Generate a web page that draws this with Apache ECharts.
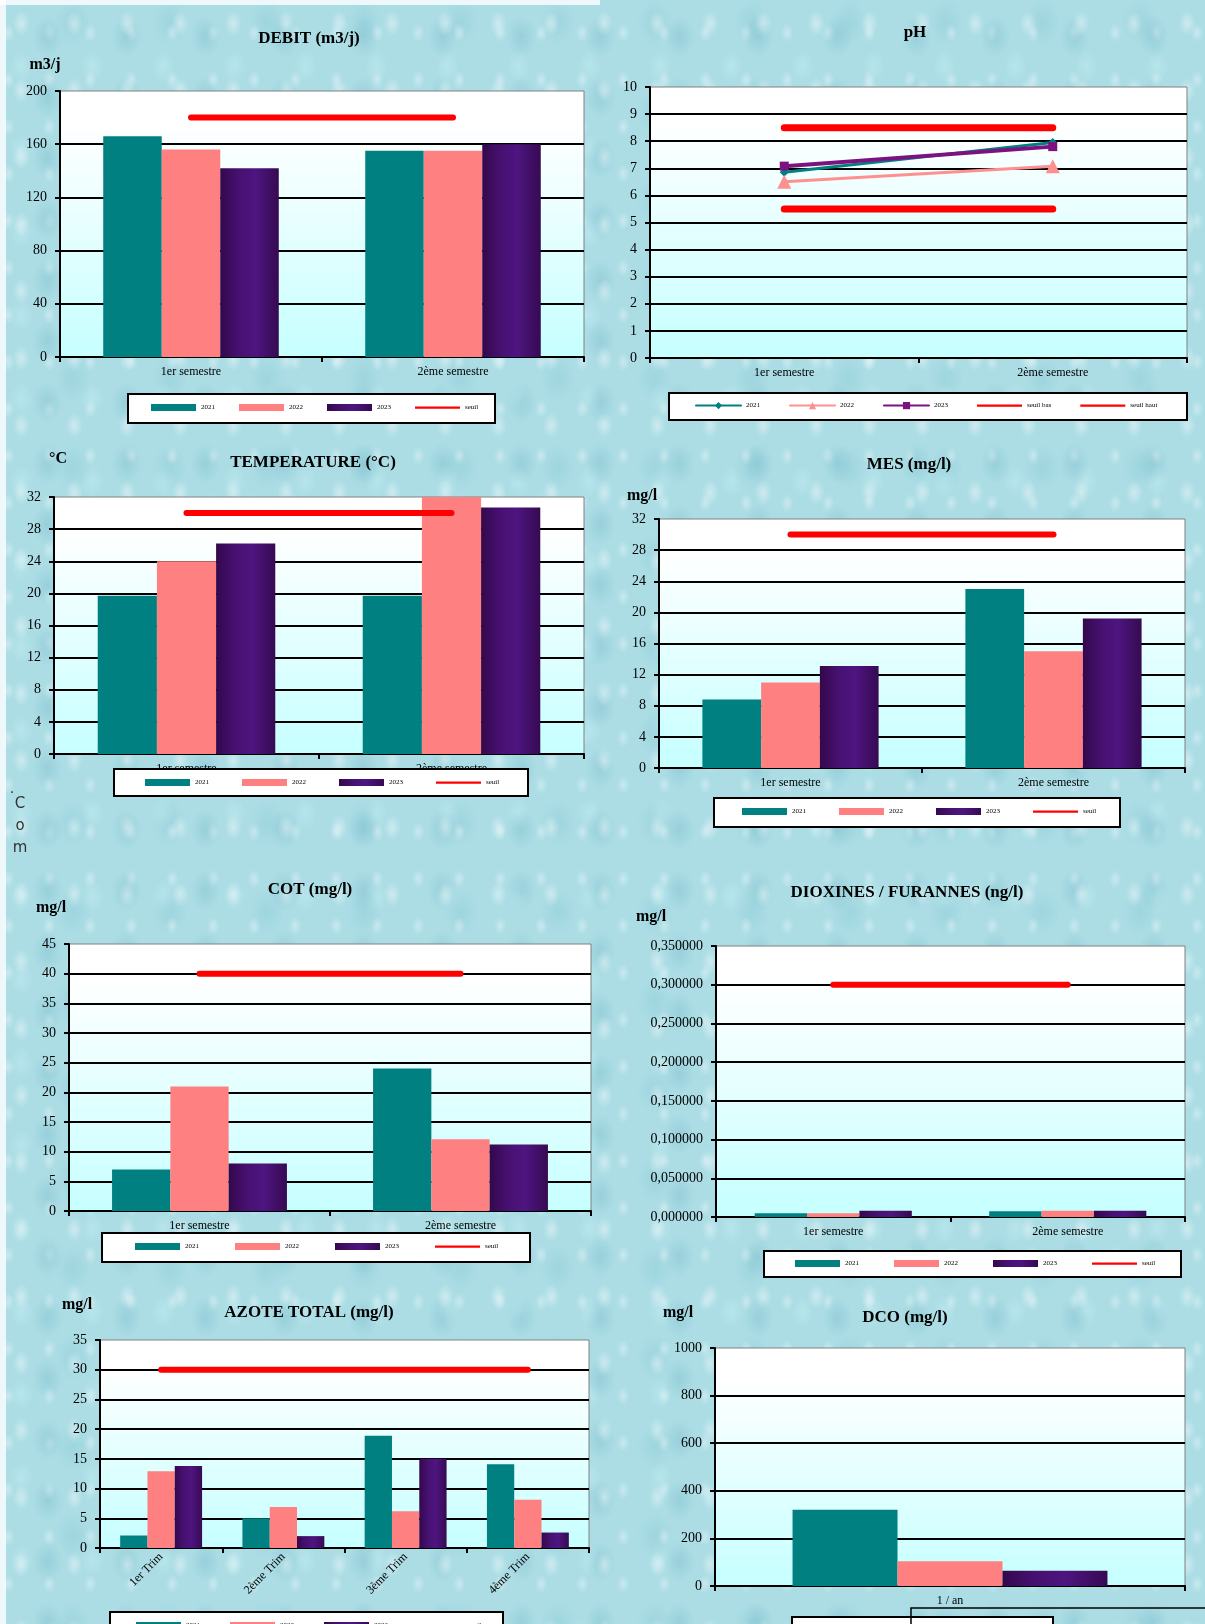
<!DOCTYPE html>
<html>
<head>
<meta charset="utf-8">
<script src="https://cdn.jsdelivr.net/npm/echarts@6/dist/echarts.min.js"></script>
<style>
html,body{margin:0;padding:0;}
body{width:1205px;height:1624px;overflow:hidden;position:relative;
 background-color:#acdde5;
 background-image:
  radial-gradient(ellipse 12px 18px at 40% 35%, rgba(255,255,255,0.40), rgba(255,255,255,0) 70%),
  radial-gradient(ellipse 22px 30px at 60% 60%, rgba(80,160,180,0.22), rgba(80,160,180,0) 70%),
  radial-gradient(ellipse 9px 13px at 20% 70%, rgba(255,255,255,0.35), rgba(255,255,255,0) 70%),
  radial-gradient(ellipse 26px 34px at 75% 25%, rgba(110,185,200,0.22), rgba(110,185,200,0) 70%),
  radial-gradient(ellipse 16px 22px at 30% 80%, rgba(200,240,245,0.4), rgba(200,240,245,0) 70%);
 background-size: 53px 67px, 79px 61px, 41px 47px, 97px 89px, 71px 83px;
}
#stripL{position:absolute;left:0;top:0;width:6px;height:1624px;background:rgba(255,255,255,0.8);}
#stripT{position:absolute;left:0;top:0;width:600px;height:5px;background:rgba(255,255,255,0.8);}
#chart{position:absolute;left:0;top:0;width:1205px;height:1624px;}
</style>
</head>
<body>
<div id="stripL"></div><div id="stripT"></div>
<div id="chart"></div>
<script>
// ---------- DATA ----------
const semesters = ['1er semestre', '2ème semestre'];
const trims = ['1er Trim', '2ème Trim', '3ème Trim', '4ème Trim'];
const dcoCats = ['1 / an'];

const debitTicks = [0, 40, 80, 120, 160, 200];
const debit2021 = [166, 155];
const debit2022 = [156, 155];
const debit2023 = [142, 160];
const debitSeuil = [180, 180];

const phTicks = [0, 1, 2, 3, 4, 5, 6, 7, 8, 9, 10];
const ph2021 = [6.85, 7.95];
const ph2022 = [6.5, 7.08];
const ph2023 = [7.08, 7.8];
const phSeuilBas = [5.5, 5.5];
const phSeuilHaut = [8.5, 8.5];

const tempTicks = [0, 4, 8, 12, 16, 20, 24, 28, 32];
const temp2021 = [19.7, 19.7];
const temp2022 = [24, 32];
const temp2023 = [26.2, 30.7];
const tempSeuil = [30, 30];

const mesTicks = [0, 4, 8, 12, 16, 20, 24, 28, 32];
const mes2021 = [8.8, 23];
const mes2022 = [11, 15];
const mes2023 = [13.1, 19.2];
const mesSeuil = [30, 30];

const cotTicks = [0, 5, 10, 15, 20, 25, 30, 35, 40, 45];
const cot2021 = [7, 24];
const cot2022 = [21, 12.1];
const cot2023 = [8, 11.2];
const cotSeuil = [40, 40];

const dioxTicks = [0, 0.05, 0.10, 0.15, 0.20, 0.25, 0.30, 0.35];
const diox2021 = [0.005, 0.0075];
const diox2022 = [0.005, 0.008];
const diox2023 = [0.008, 0.008];
const dioxSeuil = [0.3, 0.3];

const azoteTicks = [0, 5, 10, 15, 20, 25, 30, 35];
const azote2021 = [2.1, 5, 18.9, 14.1];
const azote2022 = [12.9, 6.9, 6.2, 8.1];
const azote2023 = [13.8, 2, 15, 2.6];
const azoteSeuil = [30, 30, 30, 30];

const dcoTicks = [0, 200, 400, 600, 800, 1000];
const dco2021 = [320];
const dco2022 = [104];
const dco2023 = [64];

// ---------- STYLE ----------
const SERIF = '"Liberation Serif", "Times New Roman", serif';
const TEAL = '#008080', PINK = '#ff8080', RED = '#ff0000';
const PURPLE = {type:'linear', x:0, y:0, x2:1, y2:0, colorStops:[
  {offset:0, color:'#33084c'}, {offset:0.3, color:'#46106f'}, {offset:0.6, color:'#4e1580'}, {offset:1, color:'#360a52'}]};
const PLOTBG = {type:'linear', x:0, y:0, x2:0, y2:1, colorStops:[
  {offset:0, color:'#ffffff'}, {offset:0.13, color:'#ffffff'}, {offset:1, color:'#c6ffff'}]};
const SEUIL_ICON = 'path://M0,0H60V3H0Z';

const grids = [], xAxes = [], yAxes = [], series = [], legends = [], graphics = [];

function txt(x, y, text, font, color) {
  graphics.push({type:'text', x:x, y:y, z:50, style:{text:text, font:font, fill:color || '#000',
    align:'center', verticalAlign:'middle', textAlign:'center', textVerticalAlign:'middle'}});
}
function box(x, y, w, h, fill) {
  graphics.push({type:'rect', z:50, shape:{x:x, y:y, width:w, height:h},
    style:{fill:fill, stroke:'#000', lineWidth:2}});
}

function addPanel(p) {
  const i = grids.length;
  grids.push({left:p.grid[0], top:p.grid[1], width:p.grid[2], height:p.grid[3], show:true,
    backgroundColor:PLOTBG, borderColor:'#808080', borderWidth:1});
  xAxes.push({type:'category', gridIndex:i, data:p.cats, boundaryGap:true,
    axisLine:{lineStyle:{color:'#000', width:2}},
    axisTick:{show:true, length:5, lineStyle:{color:'#000', width:2}},
    axisLabel:{color:'#000', fontFamily:SERIF, fontSize:12, margin:p.xMargin || 9, rotate:p.rotate || 0, interval:0},
    splitLine:{show:false}});
  const t = p.ticks;
  yAxes.push({type:'value', gridIndex:i, min:t[0], max:t[t.length-1], interval:t[1]-t[0],
    axisLine:{show:true, lineStyle:{color:'#000', width:2}},
    axisTick:{show:true, length:5, lineStyle:{color:'#000', width:2}},
    axisLabel:{color:'#000', fontFamily:SERIF, fontSize:14, margin:13, formatter:p.fmt || (v => String(v))},
    splitLine:{show:true, showMaxLine:false, lineStyle:{color:'#000', width:2}}});
  const legendData = [];
  (p.bars || []).forEach(b => {
    const name = b.name + '|' + i;
    series.push({type:'bar', name:name, xAxisIndex:i, yAxisIndex:i, data:b.data,
      itemStyle:{color:b.color}, barGap:'0%', barCategoryGap:'33%'});
    legendData.push({name:name, icon:'rect'});
  });
  (p.lines || []).forEach(l => {
    const name = l.name + '|' + i;
    series.push({type:'line', name:name, xAxisIndex:i, yAxisIndex:i, data:l.data,
      symbol:l.symbol || 'none', symbolSize:l.size || 0, z:5,
      lineStyle:{color:l.color, width:l.width, cap:'round'}, itemStyle:{color:l.color}});
    legendData.push(l.symbol ? {name:name} : {name:name, icon:SEUIL_ICON});
  });
  if (p.legend) {
    legends.push({left:p.legend.left, top:p.legend.top, orient:'horizontal', itemGap:p.legend.gap,
      itemWidth:45, itemHeight:p.legend.ih || 7, padding:0, z:60, selectedMode:false,
      lineStyle:{width:2}, data:legendData, formatter:n => n.split('|')[0],
      textStyle:{fontFamily:SERIF, fontSize:7, color:'#000'}});
  }
  if (p.box) box(p.box[0], p.box[1], p.box[2], p.box[3], '#fff');
}

const bars3 = (a, b, c) => [{name:'2021', data:a, color:TEAL}, {name:'2022', data:b, color:PINK}, {name:'2023', data:c, color:PURPLE}];
const seuilLine = d => ({name:'seuil', data:d, color:RED, width:6});

// 1 DEBIT
addPanel({grid:[60, 91, 524, 266], cats:semesters, ticks:debitTicks,
  bars:bars3(debit2021, debit2022, debit2023), lines:[seuilLine(debitSeuil)],
  legend:{left:151, top:404, gap:24}, box:[128, 394, 367, 29]});
txt(309, 39, 'DEBIT (m3/j)', 'bold 17px ' + SERIF);
txt(45, 65, 'm3/j', 'bold 16px ' + SERIF);

// 2 pH
addPanel({grid:[650, 87, 537, 271], cats:semesters, ticks:phTicks,
  lines:[
    {name:'2021', data:ph2021, color:TEAL, width:3, symbol:'diamond', size:9},
    {name:'2022', data:ph2022, color:'#ff9090', width:3, symbol:'triangle', size:14},
    {name:'2023', data:ph2023, color:'#7d1180', width:4, symbol:'rect', size:9},
    {name:'seuil bas', data:phSeuilBas, color:RED, width:7},
    {name:'seuil haut', data:phSeuilHaut, color:RED, width:7}],
  legend:{left:695, top:402, gap:29, ih:9}, box:[669, 393, 518, 27]});
txt(915, 33, 'pH', 'bold 17px ' + SERIF);

// 3 TEMPERATURE
addPanel({grid:[54, 497, 530, 257], cats:semesters, ticks:tempTicks,
  bars:bars3(temp2021, temp2022, temp2023), lines:[seuilLine(tempSeuil)],
  legend:{left:145, top:779, gap:33}, box:[114, 769, 414, 27]});
txt(313, 463, 'TEMPERATURE (°C)', 'bold 17px ' + SERIF);
txt(58, 459, '°C', 'bold 16px ' + SERIF);

// 4 MES
addPanel({grid:[659, 519, 526, 249], cats:semesters, ticks:mesTicks,
  bars:bars3(mes2021, mes2022, mes2023), lines:[seuilLine(mesSeuil)],
  legend:{left:742, top:808, gap:33}, box:[714, 798, 406, 29]});
txt(909, 465, 'MES (mg/l)', 'bold 17px ' + SERIF);
txt(642, 496, 'mg/l', 'bold 16px ' + SERIF);

// 5 COT
addPanel({grid:[69, 944, 522, 267], cats:semesters, ticks:cotTicks,
  bars:bars3(cot2021, cot2022, cot2023), lines:[seuilLine(cotSeuil)],
  legend:{left:135, top:1243, gap:36}, box:[102, 1233, 428, 29]});
txt(310, 890, 'COT (mg/l)', 'bold 17px ' + SERIF);
txt(51, 908, 'mg/l', 'bold 16px ' + SERIF);

// 6 DIOXINES
addPanel({grid:[716, 946, 469, 271], cats:semesters, ticks:dioxTicks,
  fmt:v => v.toFixed(6).replace('.', ','),
  bars:bars3(diox2021, diox2022, diox2023), lines:[seuilLine(dioxSeuil)],
  legend:{left:795, top:1260, gap:35}, box:[764, 1251, 417, 26]});
txt(907, 893, 'DIOXINES / FURANNES (ng/l)', 'bold 17px ' + SERIF);
txt(651, 917, 'mg/l', 'bold 16px ' + SERIF);

// 7 AZOTE TOTAL
addPanel({grid:[100, 1340, 489, 208], cats:trims, ticks:azoteTicks, rotate:45, xMargin:7,
  bars:bars3(azote2021, azote2022, azote2023), lines:[seuilLine(azoteSeuil)],
  legend:{left:136, top:1622, gap:30}, box:[110, 1612, 393, 30]});
txt(309, 1313, 'AZOTE TOTAL (mg/l)', 'bold 17px ' + SERIF);
txt(77, 1305, 'mg/l', 'bold 16px ' + SERIF);

// 8 DCO
addPanel({grid:[715, 1348, 470, 238], cats:dcoCats, ticks:dcoTicks,
  bars:bars3(dco2021, dco2022, dco2023)});
txt(905, 1318, 'DCO (mg/l)', 'bold 17px ' + SERIF);
txt(678, 1313, 'mg/l', 'bold 16px ' + SERIF);
box(792, 1617, 261, 30, '#fff');
graphics.push({type:'rect', z:51, shape:{x:911, y:1608, width:310, height:40},
  style:{fill:'none', stroke:'#000', lineWidth:1.5}});

// stray text on the left
txt(12, 789, '.', '14px "DejaVu Sans"', '#333');
txt(20, 804, 'C', '15px "DejaVu Sans"', '#333');
txt(20, 826, 'o', '15px "DejaVu Sans"', '#333');
txt(20, 848, 'm', '15px "DejaVu Sans"', '#333');

const chart = echarts.init(document.getElementById('chart'), null, {renderer:'canvas', width:1205, height:1624});
chart.setOption({
  animation:false,
  backgroundColor:'transparent',
  grid:grids, xAxis:xAxes, yAxis:yAxes, series:series, legend:legends,
  graphic:{elements:graphics}
});
</script>
</body>
</html>
